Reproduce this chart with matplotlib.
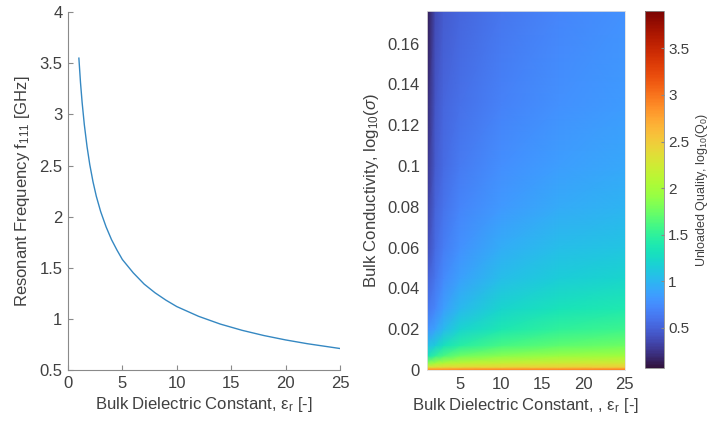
import numpy as np
import matplotlib
matplotlib.use("Agg")
import matplotlib.pyplot as plt
from matplotlib.ticker import FormatStrFormatter

plt.rcParams['font.family'] = ['Liberation Sans', 'DejaVu Sans']
plt.rcParams['mathtext.fontset'] = 'custom'
plt.rcParams['mathtext.rm'] = 'Liberation Sans'
plt.rcParams['mathtext.it'] = 'Liberation Sans:italic'
plt.rcParams['mathtext.default'] = 'regular'

txt = '#404040'
axcol = '#8a8a8a'

# resonant frequency vs dielectric constant
eps_r = [1, 1.15, 1.3, 1.5, 1.75, 2, 2.3, 2.6, 3, 3.5, 4, 4.5, 5, 6, 7, 8,
         9, 10, 12, 14, 16, 18, 20, 22, 25]
f111 = [3.55, 3.31, 3.115, 2.90, 2.685, 2.51, 2.34, 2.20, 2.05, 1.90,
        1.775, 1.673, 1.58, 1.45, 1.34, 1.255, 1.183, 1.12, 1.025, 0.949,
        0.888, 0.837, 0.794, 0.757, 0.71]

# unloaded quality map, log10(Q0), rows = conductivity, cols = eps_r
q_eps = [1, 2, 3, 5, 10, 17, 25]
q_sig = [0, 0.0007, 0.0015, 0.0035, 0.007, 0.012, 0.02, 0.03, 0.045,
         0.06, 0.08, 0.1, 0.13, 0.176]
q_val = [
    [2.85, 2.85, 2.86, 2.88, 2.90, 2.92, 2.94],
    [2.75, 2.75, 2.76, 2.78, 2.80, 2.82, 2.84],
    [2.30, 2.35, 2.38, 2.40, 2.43, 2.46, 2.48],
    [1.85, 1.98, 2.05, 2.12, 2.18, 2.23, 2.26],
    [1.30, 1.50, 1.62, 1.75, 1.86, 1.94, 1.98],
    [1.05, 1.15, 1.30, 1.45, 1.60, 1.70, 1.76],
    [0.78, 0.88, 1.02, 1.20, 1.38, 1.50, 1.56],
    [0.62, 0.72, 0.85, 1.02, 1.22, 1.33, 1.40],
    [0.50, 0.62, 0.73, 0.87, 1.05, 1.16, 1.22],
    [0.38, 0.56, 0.66, 0.78, 0.94, 1.05, 1.10],
    [0.30, 0.51, 0.60, 0.70, 0.83, 0.93, 0.99],
    [0.24, 0.47, 0.56, 0.64, 0.76, 0.85, 0.91],
    [0.18, 0.43, 0.52, 0.59, 0.69, 0.78, 0.84],
    [0.10, 0.38, 0.47, 0.53, 0.62, 0.70, 0.78],
]
q_lim = (0.07, 3.9)

fig = plt.figure(figsize=(7.12, 4.26), dpi=100)

ax1 = fig.add_axes([0.0955, 0.1315, 0.382, 0.840])
ax1.plot(eps_r, f111, color='#3588c2', lw=1.0)
ax1.set_xlim(0, 25)
ax1.set_ylim(0.5, 4)
ax1.set_xticks(range(0, 26, 5))
ax1.set_yticks(np.arange(0.5, 4.01, 0.5))
ax1.yaxis.set_major_formatter(FormatStrFormatter('%g'))
for s in ['top', 'right']:
    ax1.spines[s].set_visible(False)
for s in ['left', 'bottom']:
    ax1.spines[s].set_color(axcol)
    ax1.spines[s].set_linewidth(0.8)
ax1.tick_params(direction='in', length=3.5, color=axcol, labelcolor=txt,
                labelsize=12, pad=4)
ax1.set_xlabel('Bulk Dielectric Constant, ε$_r$ [-]', color=txt, fontsize=12,
               labelpad=3)
ax1.set_ylabel('Resonant Frequency f$_{111}$ [GHz]', color=txt, fontsize=12,
               labelpad=5)

ax2 = fig.add_axes([0.5997, 0.1315, 0.278, 0.843])
X, Y = np.meshgrid(q_eps, q_sig)
mesh = ax2.pcolormesh(X, Y, np.array(q_val), shading='gouraud', cmap='turbo',
                      vmin=q_lim[0], vmax=q_lim[1])
ax2.set_xlim(1, 25)
ax2.set_ylim(0, 0.176)
ax2.set_xticks(range(5, 26, 5))
ax2.set_yticks(np.arange(0, 0.161, 0.02))
ax2.yaxis.set_major_formatter(FormatStrFormatter('%g'))
for s in ax2.spines.values():
    s.set_color('#e0e0e0')
    s.set_linewidth(0.6)
ax2.tick_params(direction='in', length=0, labelcolor=txt, labelsize=12,
                pad=5)
ax2.set_xlabel('Bulk Dielectric Constant, , ε$_r$ [-]', color=txt,
               fontsize=12, labelpad=3)
ax2.set_ylabel(r'Bulk Conductivity, log$_{10}$($\it{\sigma}$)', color=txt,
               fontsize=12, labelpad=5)

cax = fig.add_axes([0.906, 0.136, 0.0267, 0.838])
cb = fig.colorbar(mesh, cax=cax)
cb.set_ticks(np.arange(0.5, 3.51, 0.5))
cb.ax.yaxis.set_major_formatter(FormatStrFormatter('%g'))
cb.outline.set_edgecolor(axcol)
cb.outline.set_linewidth(0.6)
cb.ax.tick_params(direction='in', length=2.5, color=axcol, labelcolor=txt,
                  labelsize=11, pad=3)
cb.set_label('Unloaded Quality, log$_{10}$(Q$_0$)', color=txt, fontsize=9,
             labelpad=3)

fig.savefig('out.png', dpi=100)
